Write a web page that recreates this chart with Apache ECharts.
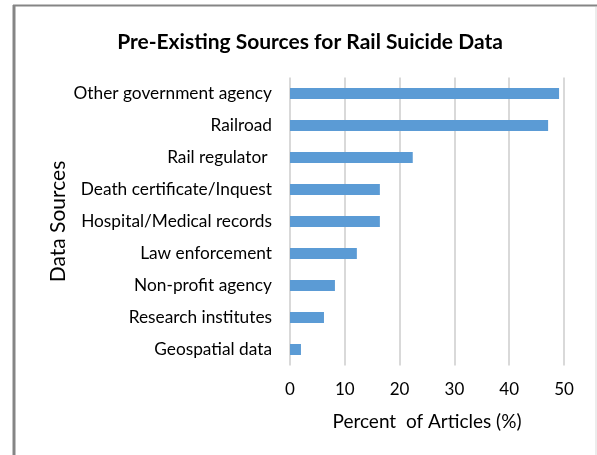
<!DOCTYPE html>
<html><head><meta charset="utf-8">
<script src="https://cdn.jsdelivr.net/npm/echarts@6/dist/echarts.min.js"></script>
<style>html,body{margin:0;padding:0;background:#fff}#c{width:597px;height:455px}</style>
</head><body><div id="c"></div>
<script>
const categories = ["Other government agency","Railroad","Rail regulator ","Death certificate/Inquest","Hospital/Medical records","Law enforcement","Non-profit agency","Research institutes","Geospatial data"];
const values = [49.1, 47.1, 22.4, 16.4, 16.4, 12.2, 8.2, 6.2, 2.0];
const xTicks = [0, 10, 20, 30, 40, 50];
const FONT = "Lato";
const chart = echarts.init(document.getElementById('c'));
chart.setOption({
  animation:false,
  backgroundColor:'#fff',
  title:{text:'Pre-Existing Sources for Rail Suicide Data',left:305,top:27,textAlign:'center',
    textStyle:{fontFamily:FONT,fontWeight:'bold',fontSize:21,color:'#000'}},
  graphic:[
    {type:'line',shape:{x1:13,y1:5.5,x2:597,y2:5.5},style:{stroke:'#858585',lineWidth:2}},
    {type:'line',shape:{x1:14,y1:5,x2:14,y2:455},style:{stroke:'#858585',lineWidth:3}},
    {type:'line',shape:{x1:596,y1:7,x2:596,y2:455},style:{stroke:'#d9d9d9',lineWidth:1}}
  ],
  grid:{left:290,right:33,top:77.5,bottom:89.5},
  xAxis:{type:'value',min:xTicks[0],max:xTicks[xTicks.length-1],interval:10,
    axisLine:{show:false},axisTick:{show:false},
    splitLine:{show:true,lineStyle:{color:'#d9d9d9',width:2}},
    axisLabel:{fontFamily:FONT,fontSize:17,color:'#000',margin:16},
    name:'Percent  of Articles (%)',nameLocation:'middle',nameGap:47,
    nameTextStyle:{fontFamily:FONT,fontSize:19,color:'#000'}},
  yAxis:{type:'category',data:categories,inverse:true,
    axisLine:{show:false},axisTick:{show:false},
    axisLabel:{fontFamily:FONT,fontSize:17.3,color:'#000',margin:18},
    name:'Data Sources',nameLocation:'middle',nameGap:221,nameRotate:90,
    nameTextStyle:{fontFamily:FONT,fontSize:21,color:'#000'}},
  series:[{type:'bar',data:values,barWidth:11,itemStyle:{color:'#5B9BD5'}}]
});
</script></body></html>
